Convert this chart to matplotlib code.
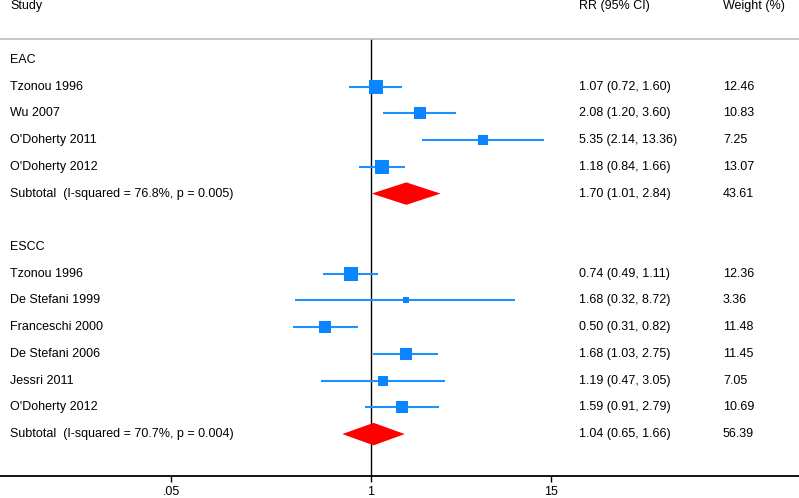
import matplotlib
matplotlib.use("Agg")
import matplotlib.pyplot as plt
import numpy as np

plt.rcParams['font.family'] = ['Liberation Sans', 'DejaVu Sans']

# ---- data ----
eac_studies = ["Tzonou 1996", "Wu 2007", "O'Doherty 2011", "O'Doherty 2012"]
eac_rr = [1.07, 2.08, 5.35, 1.18]
eac_lo = [0.72, 1.20, 2.14, 0.84]
eac_hi = [1.60, 3.60, 13.36, 1.66]
eac_w = [12.46, 10.83, 7.25, 13.07]
eac_sub = (1.70, 1.01, 2.84, 43.61)
eac_sub_label = "Subtotal  (I-squared = 76.8%, p = 0.005)"

escc_studies = ["Tzonou 1996", "De Stefani 1999", "Franceschi 2000",
                "De Stefani 2006", "Jessri 2011", "O'Doherty 2012"]
escc_rr = [0.74, 1.68, 0.50, 1.68, 1.19, 1.59]
escc_lo = [0.49, 0.32, 0.31, 1.03, 0.47, 0.91]
escc_hi = [1.11, 8.72, 0.82, 2.75, 3.05, 2.79]
escc_w = [12.36, 3.36, 11.48, 11.45, 7.05, 10.69]
escc_sub = (1.04, 0.65, 1.66, 56.39)
escc_sub_label = "Subtotal  (I-squared = 70.7%, p = 0.004)"

xticks = [0.05, 1, 15]
xticklabels = [".05", "1", "15"]

# ---- figure ----
W, H = 799, 498
fig = plt.figure(figsize=(W / 100, H / 100), dpi=100)
ax_top_px, ax_bot_px = 39.5, 475.5
ax = fig.add_axes([0, 1 - ax_bot_px / H, 1, (ax_bot_px - ax_top_px) / H])

px_per_ln = 66.6
x1_px = 371
ax.set_xscale('log')
ax.set_xlim(np.exp(-x1_px / px_per_ln), np.exp((W - x1_px) / px_per_ln))

row0_px, pitch = 60, 26.72
ax.set_ylim((ax_bot_px - row0_px) / pitch, (ax_top_px - row0_px) / pitch)

fs = 9
line_col = '#1E90FF'
sq_col = '#0A84FF'
dia_col = '#FF0000'
xl, xrr, xw = 10 / W, 579 / W, 723 / W


def sq_size(w):
    # marker side in points, area proportional to weight
    return 3.8 * np.sqrt(w) * 0.72


def draw_group(title, studies, rr, lo, hi, w, sub, sub_label, start):
    tr = ax.get_yaxis_transform()
    ax.text(xl, start, title, transform=tr, va='center', fontsize=fs)
    for i, (s, r, l, h, ww) in enumerate(zip(studies, rr, lo, hi, w)):
        y = start + 1 + i
        ax.plot([l, h], [y, y], color=line_col, lw=1.5, solid_capstyle='butt', zorder=3)
        ax.plot([r], [y], marker='s', ms=sq_size(ww), color=sq_col, mec=sq_col,
                mew=0, zorder=4)
        ax.text(xl, y, s, transform=tr, va='center', fontsize=fs)
        ax.text(xrr, y, f"{r:.2f} ({l:.2f}, {h:.2f})", transform=tr,
                va='center', fontsize=fs)
        ax.text(xw, y, f"{ww:.2f}", transform=tr, va='center', fontsize=fs)
    y = start + 1 + len(studies)
    r, l, h, ww = sub
    d = 0.42
    ax.fill([l, r, h, r], [y, y - d, y, y + d], color=dia_col, lw=0, zorder=4)
    ax.text(xl, y, sub_label, transform=tr, va='center', fontsize=fs)
    ax.text(xrr, y, f"{r:.2f} ({l:.2f}, {h:.2f})", transform=tr,
            va='center', fontsize=fs)
    ax.text(xw, y, f"{ww:.2f}", transform=tr, va='center', fontsize=fs)


draw_group("EAC", eac_studies, eac_rr, eac_lo, eac_hi, eac_w, eac_sub, eac_sub_label, 0)
draw_group("ESCC", escc_studies, escc_rr, escc_lo, escc_hi, escc_w, escc_sub, escc_sub_label, 7)

ax.axvline(1, color='black', lw=1.0, zorder=2)

for sp in ['left', 'right']:
    ax.spines[sp].set_visible(False)
ax.spines['top'].set_color('#BBBBBB')
ax.spines['top'].set_linewidth(1.2)
ax.spines['bottom'].set_color('black')
ax.spines['bottom'].set_linewidth(1.3)
ax.set_yticks([])
ax.set_xticks(xticks)
ax.set_xticklabels(xticklabels, fontsize=fs)
ax.xaxis.set_minor_locator(matplotlib.ticker.NullLocator())
ax.tick_params(axis='x', length=4.5, width=1, pad=3, color='black')

hy = 1 - 9.5 / H
fig.text(xl, hy, "Study", va='baseline', fontsize=fs)
fig.text(xrr, hy, "RR (95% CI)", va='baseline', fontsize=fs)
fig.text(xw, hy, "Weight (%)", va='baseline', fontsize=fs)

fig.savefig("out.png", dpi=100)
